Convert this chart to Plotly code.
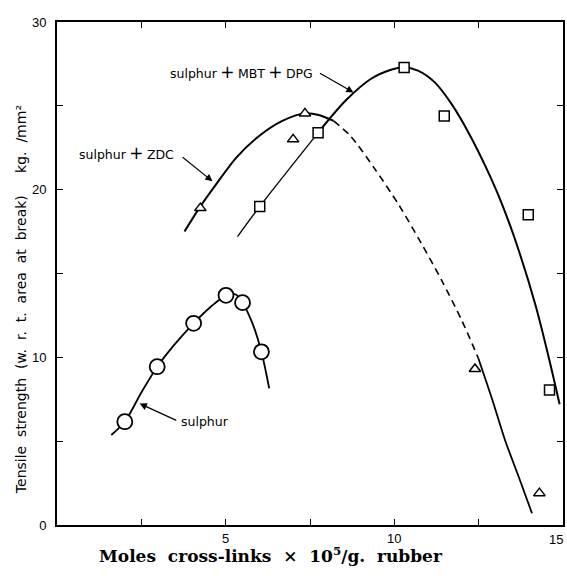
import plotly.graph_objects as go

# --- measured points ---
sulphur_x = [2.01, 2.97, 4.05, 5.01, 5.5, 6.06]
sulphur_y = [6.16, 9.44, 12.03, 13.7, 13.26, 10.33]

zdc_x = [4.25, 7.0, 7.35, 12.39, 14.3]
zdc_y = [18.9, 23.0, 24.55, 9.3, 1.9]

mbt_x = [6.01, 7.74, 10.29, 11.48, 13.97, 14.6]
mbt_y = [19.0, 23.4, 27.28, 24.4, 18.5, 8.05]

# --- drawn curves ---
sulphur_curve_x = [1.61, 2.01, 2.5, 2.97, 3.5, 4.05, 4.55, 5.01, 5.3, 5.5, 5.8, 6.06, 6.29]
sulphur_curve_y = [5.37, 6.16, 7.9, 9.44, 10.8, 12.03, 13.0, 13.7, 13.75, 13.26, 12.0, 10.33, 8.15]

zdc_curve1_x = [3.78, 4.25, 4.71, 5.31, 5.99, 6.68, 7.35, 7.76, 8.2]
zdc_curve1_y = [17.5, 19.0, 20.3, 21.9, 23.2, 24.1, 24.55, 24.45, 24.1]
zdc_dash_x = [8.2, 8.7, 9.4, 10.13, 10.8, 11.4, 12.0, 12.49]
zdc_dash_y = [24.1, 23.2, 21.3, 19.1, 16.8, 14.6, 12.2, 9.95]
zdc_curve2_x = [12.49, 12.9, 13.28, 13.7, 14.08]
zdc_curve2_y = [9.95, 7.5, 5.07, 2.8, 0.7]

mbt_curve1_x = [5.35, 6.01, 6.78, 7.74]
mbt_curve1_y = [17.2, 19.0, 20.97, 23.4]
mbt_curve2_x = [7.74, 8.55, 9.3, 9.9, 10.29, 10.7, 11.2, 11.7, 12.2, 12.7, 13.2, 13.7, 14.2, 14.6, 14.9]
mbt_curve2_y = [23.4, 25.3, 26.6, 27.15, 27.3, 27.1, 26.4, 25.1, 23.4, 21.4, 19.1, 16.3, 13.0, 9.8, 7.2]

x_ticks = [2.5, 5, 7.5, 10, 12.5, 15]
x_ticklabels = ["", "5", "", "10", "", ""]
y_ticks = [0, 5, 10, 15, 20, 25, 30]
y_ticklabels = ["0", "", "10", "", "20", "", "30"]

fig = go.Figure()

def line(x, y, w=2, dash="solid"):
    fig.add_trace(go.Scatter(x=x, y=y, mode="lines",
                             line=dict(color="black", width=w, dash=dash, shape="spline", smoothing=0.8),
                             hoverinfo="skip", showlegend=False))

line(sulphur_curve_x, sulphur_curve_y, 1.8)
line(zdc_curve1_x, zdc_curve1_y, 2)
line(zdc_dash_x, zdc_dash_y, 1.6, "7px,5px")
line(zdc_curve2_x, zdc_curve2_y, 1.8)
line(mbt_curve1_x, mbt_curve1_y, 1.3)
line(mbt_curve2_x, mbt_curve2_y, 2)

fig.add_trace(go.Scatter(x=sulphur_x, y=sulphur_y, mode="markers",
                         marker=dict(symbol="circle", size=15, color="white",
                                     line=dict(color="black", width=1.8)), showlegend=False))
fig.add_trace(go.Scatter(x=zdc_x, y=zdc_y, mode="markers",
                         marker=dict(symbol="triangle-up", size=10, color="white",
                                     line=dict(color="black", width=1.5)), showlegend=False))
fig.add_trace(go.Scatter(x=mbt_x, y=mbt_y, mode="markers",
                         marker=dict(symbol="square", size=10, color="white",
                                     line=dict(color="black", width=1.5)), showlegend=False))

lab_font = dict(family="DejaVu Sans, sans-serif", size=12.5, color="black")
PLUS = "<span style='font-size:17px'>\u2009+\u2009</span>"

def label(text, x, y):
    fig.add_annotation(x=x, y=y, xref="x", yref="y", text=text, showarrow=False,
                       xanchor="left", yanchor="middle", font=lab_font)

def arrow(x0, y0, x1, y1):
    fig.add_annotation(x=x1, y=y1, ax=x0, ay=y0, xref="x", yref="y", axref="x", ayref="y",
                       text="", showarrow=True, arrowhead=2, arrowsize=1.2, arrowwidth=1.2,
                       arrowcolor="black")

label("sulphur" + PLUS + "MBT" + PLUS + "DPG", 3.3, 27.0)
arrow(7.75, 27.0, 8.79, 25.8)
label("sulphur" + PLUS + "ZDC", 0.58, 22.2)
arrow(3.68, 22.0, 4.61, 20.5)
label("sulphur", 3.63, 6.16)
arrow(3.58, 6.2, 2.45, 7.24)

axis_common = dict(showline=True, linecolor="black", linewidth=2, mirror="ticks",
                   ticks="inside", ticklen=6, tickwidth=1.2, tickcolor="black",
                   showgrid=False, zeroline=False,
                   tickfont=dict(family="Liberation Sans, Arial, sans-serif", size=13, color="black"))

fig.update_xaxes(range=[0, 15], tickvals=x_ticks, ticktext=x_ticklabels, **axis_common)
fig.update_yaxes(range=[0, 30], tickvals=y_ticks, ticktext=y_ticklabels, ticklabelstandoff=6, **axis_common)

# "15" tick label at the right edge (plotly drops it as it overflows the page)
fig.add_annotation(xref="paper", yref="paper", x=1 + 2 / 508, y=0, yshift=-5,
                   text="15", showarrow=False, xanchor="right", yanchor="top",
                   font=dict(family="Liberation Sans, Arial, sans-serif", size=13, color="black"))

NB = "\u00a0"
fig.add_annotation(xref="paper", yref="paper", x=(272 - 57) / 508, y=(525 - 555) / 503,
                   text="<b>Moles" + NB * 2 + "cross-links" + NB * 2 + "\u00d7" + NB * 2 +
                        "10<sup>5</sup>/g." + NB * 2 + "rubber</b>", showarrow=False,
                   xanchor="center", yanchor="middle",
                   font=dict(family="DejaVu Serif, Liberation Serif, serif", size=17, color="black"))
G = NB * 2
fig.add_annotation(xref="paper", yref="paper", x=(21 - 57) / 508, y=(525 - 300) / 503,
                   text="Tensile" + G + "strength" + G + "(w." + G + "r." + G + "t." + G + "area" + G +
                        "at" + G + "break)" + NB * 5 + "kg." + G + "/mm\u00b2", showarrow=False,
                   textangle=-90, xanchor="center", yanchor="middle",
                   font=dict(family="DejaVu Sans, sans-serif", size=14, color="black"))

fig.update_layout(width=567, height=576, margin=dict(l=57, r=2, t=22, b=51),
                  paper_bgcolor="white", plot_bgcolor="white", showlegend=False)

fig.write_html("out.html")
